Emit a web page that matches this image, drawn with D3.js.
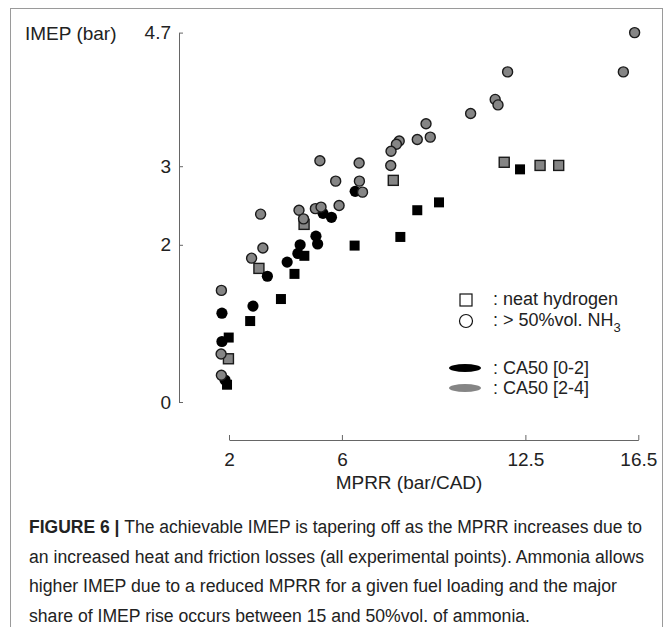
<!DOCTYPE html>
<html>
<head>
<meta charset="utf-8">
<script src="https://cdn.jsdelivr.net/npm/d3@7"></script>
<style>
  body { margin: 0; background: #fff; }
  svg text { font-family: "Liberation Sans", Arial, sans-serif; fill: #222; }
</style>
</head>
<body>
<svg id="chart" width="672" height="627"></svg>
<script>
// MPRR (bar/CAD), IMEP (bar)
const ammoniaLate = [ // > 50%vol NH3, CA50 [2-4] (grey circles)
  [16.37, 4.70], [15.97, 4.20], [11.87, 4.20], [11.43, 3.85], [11.53, 3.78],
  [10.56, 3.67], [8.98, 3.54], [9.13, 3.37], [8.67, 3.34], [8.03, 3.32],
  [7.93, 3.28], [7.74, 3.19], [7.73, 3.01], [5.22, 3.07], [6.61, 3.04],
  [5.78, 2.81], [6.62, 2.81], [6.73, 2.67], [3.12, 2.39], [4.48, 2.44],
  [5.06, 2.46], [5.26, 2.48], [5.90, 2.50], [4.64, 2.33], [3.20, 1.96],
  [2.80, 1.83], [1.73, 1.42], [1.72, 0.61], [1.73, 0.34]
];
const ammoniaEarly = [ // > 50%vol NH3, CA50 [0-2] (black circles)
  [1.75, 1.13], [2.85, 1.22], [3.36, 1.60], [4.06, 1.78], [4.52, 2.00],
  [4.44, 1.89], [5.08, 2.11], [5.14, 2.01], [5.33, 2.40], [5.63, 2.35],
  [6.47, 2.68], [1.75, 0.77], [1.86, 0.28]
];
const hydrogenLate = [ // neat hydrogen, CA50 [2-4] (grey squares)
  [3.06, 1.70], [4.66, 2.26], [1.98, 0.55], [7.82, 2.82],
  [11.75, 3.05], [13.02, 3.01], [13.68, 3.01]
];
const hydrogenEarly = [ // neat hydrogen, CA50 [0-2] (black squares)
  [1.99, 0.82], [2.75, 1.03], [3.84, 1.31], [4.32, 1.63], [4.67, 1.86],
  [6.45, 1.99], [8.07, 2.10], [8.67, 2.44], [9.44, 2.54], [12.31, 2.96],
  [1.93, 0.22]
];

const xTicks = [2, 6, 12.5, 16.5];
const yTicks = [0, 2, 3, 4.7];

const captionLines = [
  "The achievable IMEP is tapering off as the MPRR increases due to",
  "an increased heat and friction losses (all experimental points). Ammonia allows",
  "higher IMEP due to a reduced MPRR for a given fuel loading and the major",
  "share of IMEP rise occurs between 15 and 50%vol. of ammonia."
];

const GREY = "#858585";
const svg = d3.select("#chart");

// figure frame
svg.append("rect")
  .attr("x", 10.5).attr("y", 8.5)
  .attr("width", 652).attr("height", 700)
  .attr("fill", "none").attr("stroke", "#9a9a9a");

const x = d3.scaleLinear().domain([2, 16.5]).range([229, 638.3]);
const y = d3.scaleLinear().domain([0, 4.7]).range([402, 32.6]);

const yAxis = d3.axisLeft(y).tickValues(yTicks).tickFormat(d3.format("")).tickSizeInner(-4).tickSizeOuter(0).tickPadding(8);
const xAxis = d3.axisBottom(x).tickValues(xTicks).tickFormat(d3.format("")).tickSizeInner(-5).tickSizeOuter(0).tickPadding(13);

const gy = svg.append("g").attr("transform", "translate(179,0)").call(yAxis);
const gx = svg.append("g").attr("transform", "translate(0,440)").call(xAxis);
[gx, gy].forEach(g => {
  g.select(".domain").attr("stroke", "#666");
  g.selectAll(".tick line").attr("stroke", "#666");
  g.selectAll(".tick text").attr("font-size", 19).attr("fill", "#222")
    .attr("font-family", "Liberation Sans, Arial, sans-serif");
});

svg.append("text").attr("x", 25).attr("y", 40).attr("font-size", 19).text("IMEP (bar)");
svg.append("text").attr("x", 409).attr("y", 489).attr("font-size", 19)
  .attr("text-anchor", "middle").text("MPRR (bar/CAD)");

// markers
const marks = svg.append("g");
const sq = 10;
function squares(data, fill, stroke) {
  marks.append("g").selectAll("rect").data(data).join("rect")
    .attr("x", d => x(d[0]) - sq / 2).attr("y", d => y(d[1]) - sq / 2)
    .attr("width", sq).attr("height", sq)
    .attr("fill", fill).attr("stroke", stroke).attr("stroke-width", stroke === "none" ? 0 : 1.4);
}
function circles(data, fill, stroke) {
  marks.append("g").selectAll("circle").data(data).join("circle")
    .attr("cx", d => x(d[0])).attr("cy", d => y(d[1]))
    .attr("r", stroke === "none" ? 5.6 : 5)
    .attr("fill", fill).attr("stroke", stroke).attr("stroke-width", stroke === "none" ? 0 : 1.4);
}
squares(hydrogenEarly, "#000", "none");
squares(hydrogenLate, GREY, "#1a1a1a");
circles(ammoniaEarly, "#000", "none");
circles(ammoniaLate, GREY, "#1a1a1a");

// legend
const leg = svg.append("g").attr("font-size", 18);
leg.append("rect").attr("x", 460).attr("y", 294).attr("width", 12).attr("height", 12)
  .attr("fill", "none").attr("stroke", "#111").attr("stroke-width", 1.2);
leg.append("circle").attr("cx", 466).attr("cy", 321).attr("r", 6.5)
  .attr("fill", "none").attr("stroke", "#111").attr("stroke-width", 1.2);
leg.append("text").attr("x", 493).attr("y", 305).text(": neat hydrogen");
const nh = leg.append("text").attr("x", 493).attr("y", 326).text(": > 50%vol. NH");
nh.append("tspan").attr("dy", 6).attr("font-size", 13).text("3");
leg.append("ellipse").attr("cx", 465).attr("cy", 368).attr("rx", 16).attr("ry", 4).attr("fill", "#000");
leg.append("ellipse").attr("cx", 465).attr("cy", 388).attr("rx", 16).attr("ry", 4).attr("fill", GREY);
leg.append("text").attr("x", 493).attr("y", 374).text(": CA50 [0-2]");
leg.append("text").attr("x", 493).attr("y", 394).text(": CA50 [2-4]");

// caption
const capWidths = [613, 615, 588, 501];
const cap = svg.append("g").attr("font-size", 18);
captionLines.forEach((line, i) => {
  const t = cap.append("text").attr("x", 29).attr("y", 533 + i * 29.5)
    .attr("fill", "#333")
    .attr("textLength", capWidths[i]).attr("lengthAdjust", "spacingAndGlyphs");
  if (i === 0) {
    t.append("tspan").attr("font-weight", "bold").attr("fill", "#222").text("FIGURE 6 | ");
    t.append("tspan").text(line);
  } else {
    t.text(line);
  }
});
</script>
</body>
</html>
